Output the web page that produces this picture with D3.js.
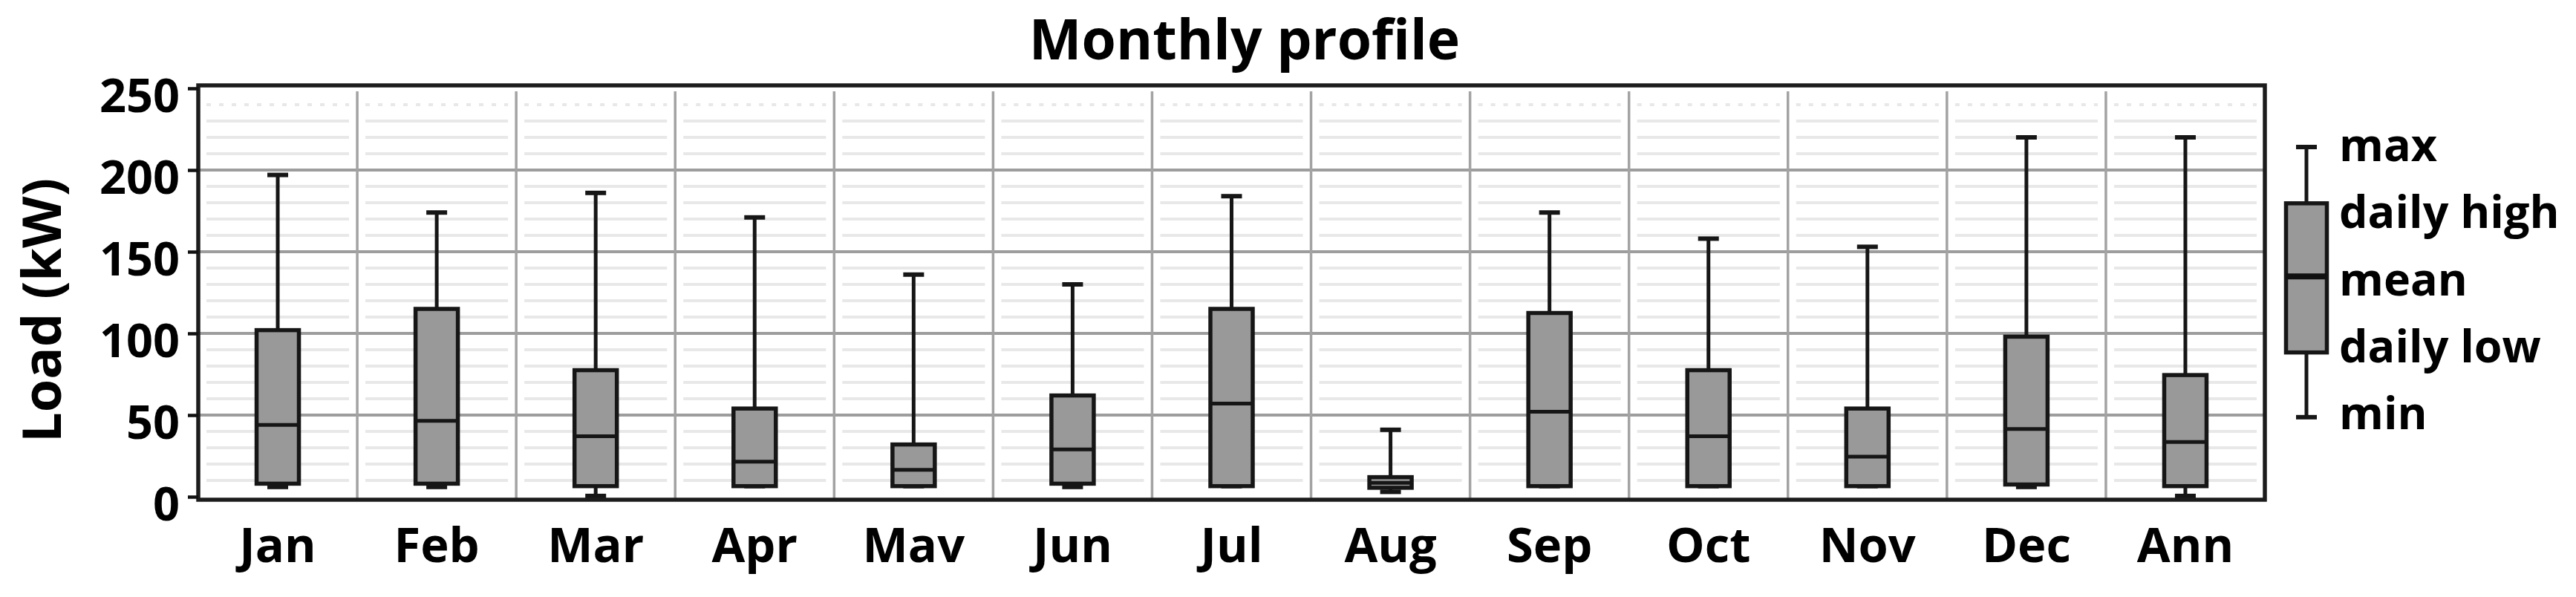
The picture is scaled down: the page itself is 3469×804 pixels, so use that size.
<!DOCTYPE html>
<html><head><meta charset="utf-8">
<script src="https://cdn.jsdelivr.net/npm/d3@7"></script>
<style>
body{margin:0;background:#fff;}
svg{display:block;font-family:"Open Sans",sans-serif;font-weight:700;}
</style>
</head><body>
<svg id="chart" width="3469" height="804"></svg>
<script>
// ---- data ----
const categories = ["Jan","Feb","Mar","Apr","May","Jun","Jul","Aug","Sep","Oct","Nov","Dec","Ann"];
const categoryLabels = ["Jan","Feb","Mar","Apr","Mav","Jun","Jul","Aug","Sep","Oct","Nov","Dec","Ann"];
const maxValues  = [197, 174, 186, 171, 136, 130, 184, 41, 174, 158, 153, 220, 220];
const dailyHigh  = [102, 115, 77.5, 54, 32, 62, 115, 12, 112.5, 77.5, 54, 98, 74.5];
const meanValues = [44, 46.5, 37, 21.5, 16.5, 29, 57, 8.5, 52, 37, 24.5, 41.5, 33.5];
const dailyLow   = [8, 8, 6.5, 6.5, 6.5, 8, 6.5, 5.5, 6.5, 6.5, 6.5, 7.5, 6.5];
const minValues  = [6, 6, 0.5, 6.5, 6.5, 6, 6.5, 3, 6.5, 6.5, 6.5, 6, 0.5];
const yTicks = [0, 50, 100, 150, 200, 250];
const minorTicks = [10,20,30,40,60,70,80,90,110,120,130,140,160,170,180,190,210,220,230,240];
const legendLabels = ["max","daily high","mean","daily low","min"];
const legendSample = [100, 80, 54, 27, 4];
const titleText = "Monthly profile";
const yTitle = "Load (kW)";

// ---- layout ----
const svg = d3.select("#chart");
const L = 267, R = 3050, T = 115, B = 673;
const x = d3.scaleBand().domain(categories).range([L, R]).padding(0);
const y = d3.scaleLinear().domain([0, 250]).range([669, 119]);
const bw = x.bandwidth();
const boxW = 57, capW = 28;
const ink = "#161616";

// minor gridlines (per band, inset)
const gMinor = svg.append("g");
categories.forEach(c => {
  gMinor.selectAll(null).data(minorTicks).join("line")
    .attr("x1", x(c) + 11).attr("x2", x(c) + bw - 11)
    .attr("y1", d => y(d)).attr("y2", d => y(d))
    .attr("stroke", "#e8e8e8").attr("stroke-width", 4)
    .attr("stroke-dasharray", d => d === 240 ? "6,11" : null);
});

// major horizontal gridlines
svg.append("g").selectAll("line").data(yTicks.filter(d => d > 0 && d < 250)).join("line")
  .attr("x1", L).attr("x2", R)
  .attr("y1", d => y(d)).attr("y2", d => y(d))
  .attr("stroke", "#9d9d9d").attr("stroke-width", 4);

// vertical gridlines
svg.append("g").selectAll("line").data(categories.slice(1)).join("line")
  .attr("x1", d => x(d)).attr("x2", d => x(d))
  .attr("y1", T + 8).attr("y2", B)
  .attr("stroke", "#a3a3a3").attr("stroke-width", 3.5);

// frame
svg.append("rect").attr("x", L).attr("y", T).attr("width", R - L).attr("height", B - T)
  .attr("fill", "none").attr("stroke", "#1c1c1c").attr("stroke-width", 5.5);

// y axis
const yAxis = svg.append("g").attr("transform", `translate(${L},0)`)
  .call(d3.axisLeft(y).tickValues(yTicks).tickSize(14).tickPadding(11));
yAxis.select(".domain").remove();
yAxis.selectAll(".tick line").attr("stroke", "#111").attr("stroke-width", 4.5);
yAxis.selectAll(".tick text").attr("font-size", 63).attr("font-weight", 700)
  .attr("font-family", '"Open Sans",sans-serif').attr("fill", "#000").attr("dy", "0.5em");

// x axis labels
const xAxis = svg.append("g").attr("transform", `translate(0,${B})`)
  .call(d3.axisBottom(x).tickSize(0).tickFormat((d, i) => categoryLabels[i]));
xAxis.select(".domain").remove();
xAxis.selectAll(".tick text").attr("font-size", 65).attr("font-weight", 700)
  .attr("font-family", '"Open Sans",sans-serif').attr("fill", "#000")
  .attr("y", 84).attr("dy", 0);

// boxes
const data = categories.map((c, i) => ({c, max: maxValues[i], hi: dailyHigh[i], mean: meanValues[i], lo: dailyLow[i], min: minValues[i]}));
const gBox = svg.append("g").selectAll("g").data(data).join("g")
  .attr("transform", d => `translate(${x(d.c) + bw / 2},0)`);
gBox.append("line").attr("y1", d => y(d.max)).attr("y2", d => y(d.hi))
  .attr("stroke", ink).attr("stroke-width", 5);
gBox.append("line").attr("y1", d => y(d.lo)).attr("y2", d => y(d.min))
  .attr("stroke", ink).attr("stroke-width", 5);
gBox.append("line").attr("x1", -capW / 2).attr("x2", capW / 2)
  .attr("y1", d => y(d.max)).attr("y2", d => y(d.max))
  .attr("stroke", ink).attr("stroke-width", 6);
gBox.append("line").attr("x1", -capW / 2).attr("x2", capW / 2)
  .attr("y1", d => y(d.min)).attr("y2", d => y(d.min))
  .attr("stroke", ink).attr("stroke-width", 6);
gBox.append("rect").attr("x", -boxW / 2).attr("width", boxW)
  .attr("y", d => y(d.hi)).attr("height", d => y(d.lo) - y(d.hi))
  .attr("fill", "#999").attr("stroke", ink).attr("stroke-width", 5.5);
gBox.append("line").attr("x1", -boxW / 2).attr("x2", boxW / 2)
  .attr("y1", d => y(d.mean)).attr("y2", d => y(d.mean))
  .attr("stroke", ink).attr("stroke-width", 5);

// title
svg.append("text").attr("x", 1676).attr("y", 80).attr("text-anchor", "middle")
  .attr("font-size", 75).text(titleText);

// y title
svg.append("text").attr("transform", "translate(82,418) rotate(-90)")
  .attr("text-anchor", "middle").attr("font-size", 72).text(yTitle);

// legend
const ly = d3.scaleLinear().domain([0, 100]).range([577, 198]);
const lt = d3.scalePoint().domain(legendLabels).range([217, 578]);
const lx = 3106;
const lg = svg.append("g");
lg.append("line").attr("x1", lx).attr("x2", lx).attr("y1", ly(legendSample[0])).attr("y2", ly(legendSample[1]))
  .attr("stroke", ink).attr("stroke-width", 5);
lg.append("line").attr("x1", lx).attr("x2", lx).attr("y1", ly(legendSample[3])).attr("y2", ly(legendSample[4]))
  .attr("stroke", ink).attr("stroke-width", 5);
[0, 4].forEach(i => lg.append("line").attr("x1", lx - capW / 2).attr("x2", lx + capW / 2)
  .attr("y1", ly(legendSample[i])).attr("y2", ly(legendSample[i]))
  .attr("stroke", ink).attr("stroke-width", 6));
lg.append("rect").attr("x", lx - boxW / 2 + 1).attr("width", boxW - 2)
  .attr("y", ly(legendSample[1])).attr("height", ly(legendSample[3]) - ly(legendSample[1]))
  .attr("fill", "#999").attr("stroke", ink).attr("stroke-width", 5.5);
lg.append("line").attr("x1", lx - boxW / 2 + 1).attr("x2", lx + boxW / 2 - 1)
  .attr("y1", ly(legendSample[2])).attr("y2", ly(legendSample[2]))
  .attr("stroke", "#111").attr("stroke-width", 8);
lg.selectAll("text").data(legendLabels).join("text")
  .attr("x", 3150).attr("y", d => lt(d)).attr("font-size", 61).text(d => d);
</script>
</body></html>
